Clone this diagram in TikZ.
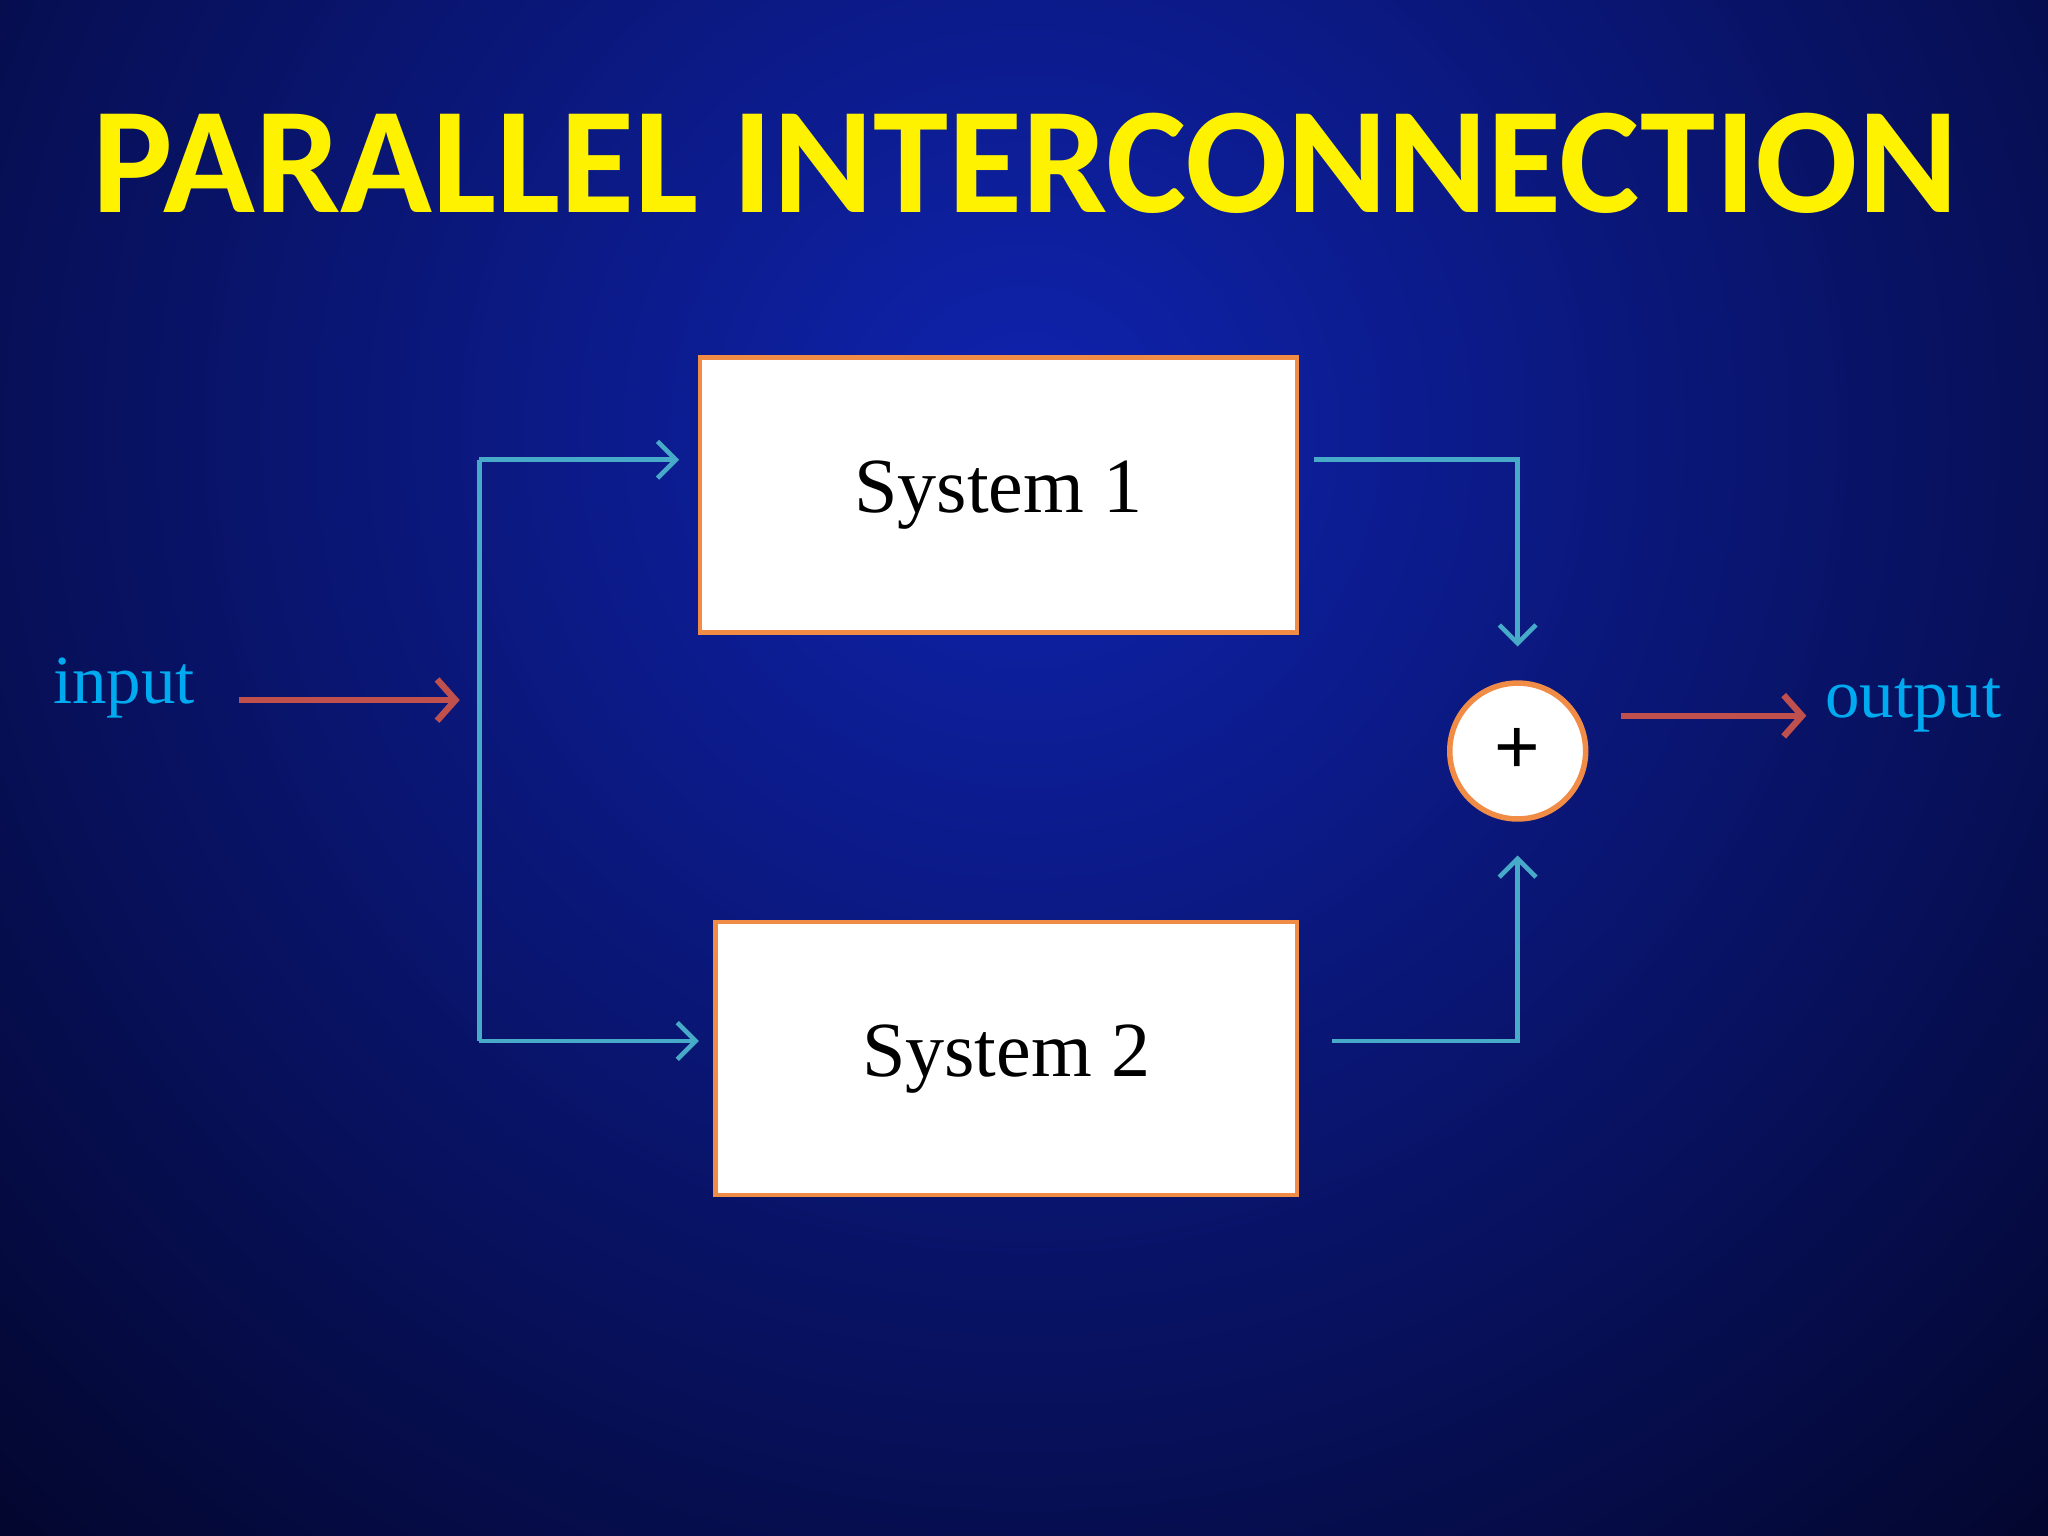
\documentclass[tikz,border=0pt]{standalone}
\usepackage{fontspec}
\setmainfont{Liberation Serif}
\newfontfamily\titlefont{Carlito}
\newfontfamily\plusfont{Liberation Sans}
\usetikzlibrary{arrows.meta}
\definecolor{bluel}{RGB}{70,170,200}
\definecolor{redl}{RGB}{192,80,77}
\definecolor{orng}{RGB}{240,140,70}
\definecolor{cyant}{RGB}{0,170,240}
\definecolor{bgout}{RGB}{2,4,35}
\definecolor{bgin}{RGB}{15,35,175}
\tikzset{
 sysbox/.style={draw=orng,line width=1pt,fill=white,inner sep=0pt,font=\fontsize{17}{17}\selectfont},
 bl/.style={draw=bluel,line width=1pt,-{Straight Barb[length=4pt,width=8pt]}},
 rl/.style={draw=redl,line width=1.4pt,-{Straight Barb[length=4pt,width=9pt]}},
}
\begin{document}
\begin{tikzpicture}[x=0.01cm,y=-0.01cm]
\useasboundingbox (0,0) rectangle (1568,1176);
\fill[bgout] (0,0) rectangle (1568,1176);
\shade[inner color=bgin,outer color=bgout] (785,330) circle (1250);
\node[font=\titlefont\bfseries\fontsize{33}{33}\selectfont,text=yellow] (title) at (785,125) {PARALLEL INTERCONNECTION};
\node[sysbox,minimum width=4.57cm,minimum height=2.1cm] (s1) at (764.5,379) {System 1};
\node[sysbox,minimum width=4.45cm,minimum height=2.09cm] (s2) at (770.5,810.5) {System 2};
\node[circle,draw=orng,line width=1.2pt,fill=white,minimum size=1.04cm,inner sep=0pt,font=\plusfont\fontsize{17}{17}\selectfont] (sum) at (1162,575) {+};
\node[text=cyant,font=\fontsize{15}{15}\selectfont] (in) at (95,527) {input};
\node[text=cyant,font=\fontsize{15}{15}\selectfont] (out) at (1465,540) {output};
\coordinate (a0) at (183,536);
\coordinate (a1) at (352,536);
\coordinate (t) at (367,352);
\coordinate (b) at (367,797);
\coordinate (t1) at (520,352);
\coordinate (b1) at (535,797);
\coordinate (o1) at (1006,352);
\coordinate (o2) at (1020,797);
\coordinate (c1) at (1162,352);
\coordinate (c2) at (1162,797);
\coordinate (e1) at (1162,495);
\coordinate (e2) at (1162,655);
\coordinate (r0) at (1241,548);
\coordinate (r1) at (1383,548);
\draw[rl] (a0) -- (a1);
\draw[draw=bluel,line width=1pt] (t) -- (b);
\draw[bl] (t) -- (t1);
\draw[bl] (b) -- (b1);
\draw[bl] (o1) -- (c1) -- (e1);
\draw[bl] (o2) -- (c2) -- (e2);
\draw[rl] (r0) -- (r1);
\end{tikzpicture}
\end{document}
